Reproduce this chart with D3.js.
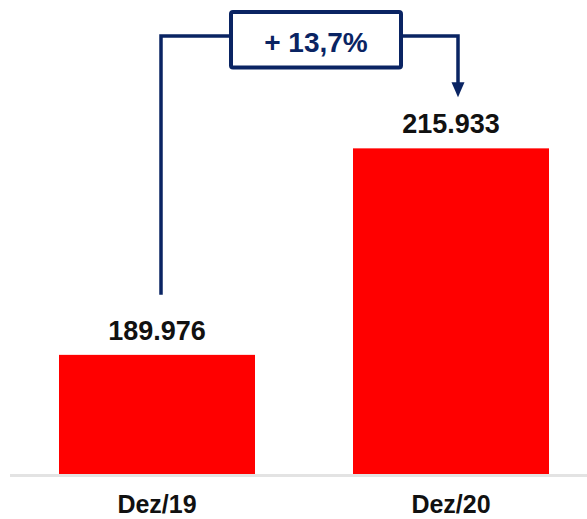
<!DOCTYPE html>
<html>
<head>
<meta charset="utf-8">
<script src="https://cdn.jsdelivr.net/npm/d3@7"></script>
<style>
  body { margin: 0; background: #fff; }
  svg { display: block; font-family: "Liberation Sans", Arial, sans-serif; }
</style>
</head>
<body>
<div id="chart"></div>
<script>
// data
var categories = ["Dez/19", "Dez/20"];
var values = [189976, 215933];
var valueLabels = ["189.976", "215.933"];
var growthLabel = "+ 13,7%";

var width = 587, height = 519;
var navy = "#0a2463";

var svg = d3.select("#chart").append("svg")
    .attr("width", width)
    .attr("height", height);

var x = d3.scaleBand()
    .domain(categories)
    .range([10, 598])
    .paddingInner(1 / 3)
    .paddingOuter(1 / 6);

// axis does not start at zero in the original
var y = d3.scaleLinear()
    .domain([175000, 220000])
    .range([474, 116]);

// baseline
svg.append("line")
    .attr("x1", 10)
    .attr("x2", width)
    .attr("y1", 475.5)
    .attr("y2", 475.5)
    .attr("stroke", "#e3e3e3")
    .attr("stroke-width", 3);

svg.selectAll(".bar")
    .data(values)
    .enter().append("rect")
    .attr("class", "bar")
    .attr("x", function (d, i) { return x(categories[i]); })
    .attr("y", function (d) { return y(d); })
    .attr("width", x.bandwidth())
    .attr("height", function (d) { return y.range()[0] - y(d); })
    .attr("fill", "#ff0000");

svg.selectAll(".val")
    .data(values)
    .enter().append("text")
    .attr("class", "val")
    .attr("x", function (d, i) { return x(categories[i]) + x.bandwidth() / 2; })
    .attr("y", function (d) { return y(d) - 15; })
    .attr("text-anchor", "middle")
    .attr("font-size", 27)
    .attr("font-weight", "bold")
    .attr("fill", "#111")
    .text(function (d, i) { return valueLabels[i]; });

svg.selectAll(".cat")
    .data(categories)
    .enter().append("text")
    .attr("class", "cat")
    .attr("x", function (d) { return x(d) + x.bandwidth() / 2; })
    .attr("y", 513)
    .attr("text-anchor", "middle")
    .attr("font-size", 25)
    .attr("font-weight", "bold")
    .attr("fill", "#111")
    .text(function (d) { return d; });

// growth annotation
var lx = x(categories[0]) + x.bandwidth() / 2 + 4;
var rx = x(categories[1]) + x.bandwidth() / 2 + 7;
var ly = 36;
var boxL = 231, boxR = 401, boxT = 12, boxB = 67.5;
var tipY = y(values[1]) - 51;

svg.append("path")
    .attr("d", "M" + lx + "," + (y(values[0]) - 60) + "V" + ly + "H" + boxL)
    .attr("fill", "none")
    .attr("stroke", navy)
    .attr("stroke-width", 3.5);

svg.append("path")
    .attr("d", "M" + boxR + "," + ly + "H" + rx + "V" + (tipY - 14))
    .attr("fill", "none")
    .attr("stroke", navy)
    .attr("stroke-width", 3.5);

svg.append("path")
    .attr("d", "M" + (rx - 6.5) + "," + (tipY - 15) + "L" + (rx + 6.5) + "," + (tipY - 15) + "L" + rx + "," + tipY + "Z")
    .attr("fill", navy);

svg.append("rect")
    .attr("x", boxL)
    .attr("y", boxT)
    .attr("width", boxR - boxL)
    .attr("height", boxB - boxT)
    .attr("rx", 2)
    .attr("fill", "#fff")
    .attr("stroke", navy)
    .attr("stroke-width", 4);

svg.append("text")
    .attr("x", (boxL + boxR) / 2)
    .attr("y", 52)
    .attr("text-anchor", "middle")
    .attr("font-size", 28)
    .attr("font-weight", "bold")
    .attr("fill", navy)
    .text(growthLabel);
</script>
</body>
</html>
